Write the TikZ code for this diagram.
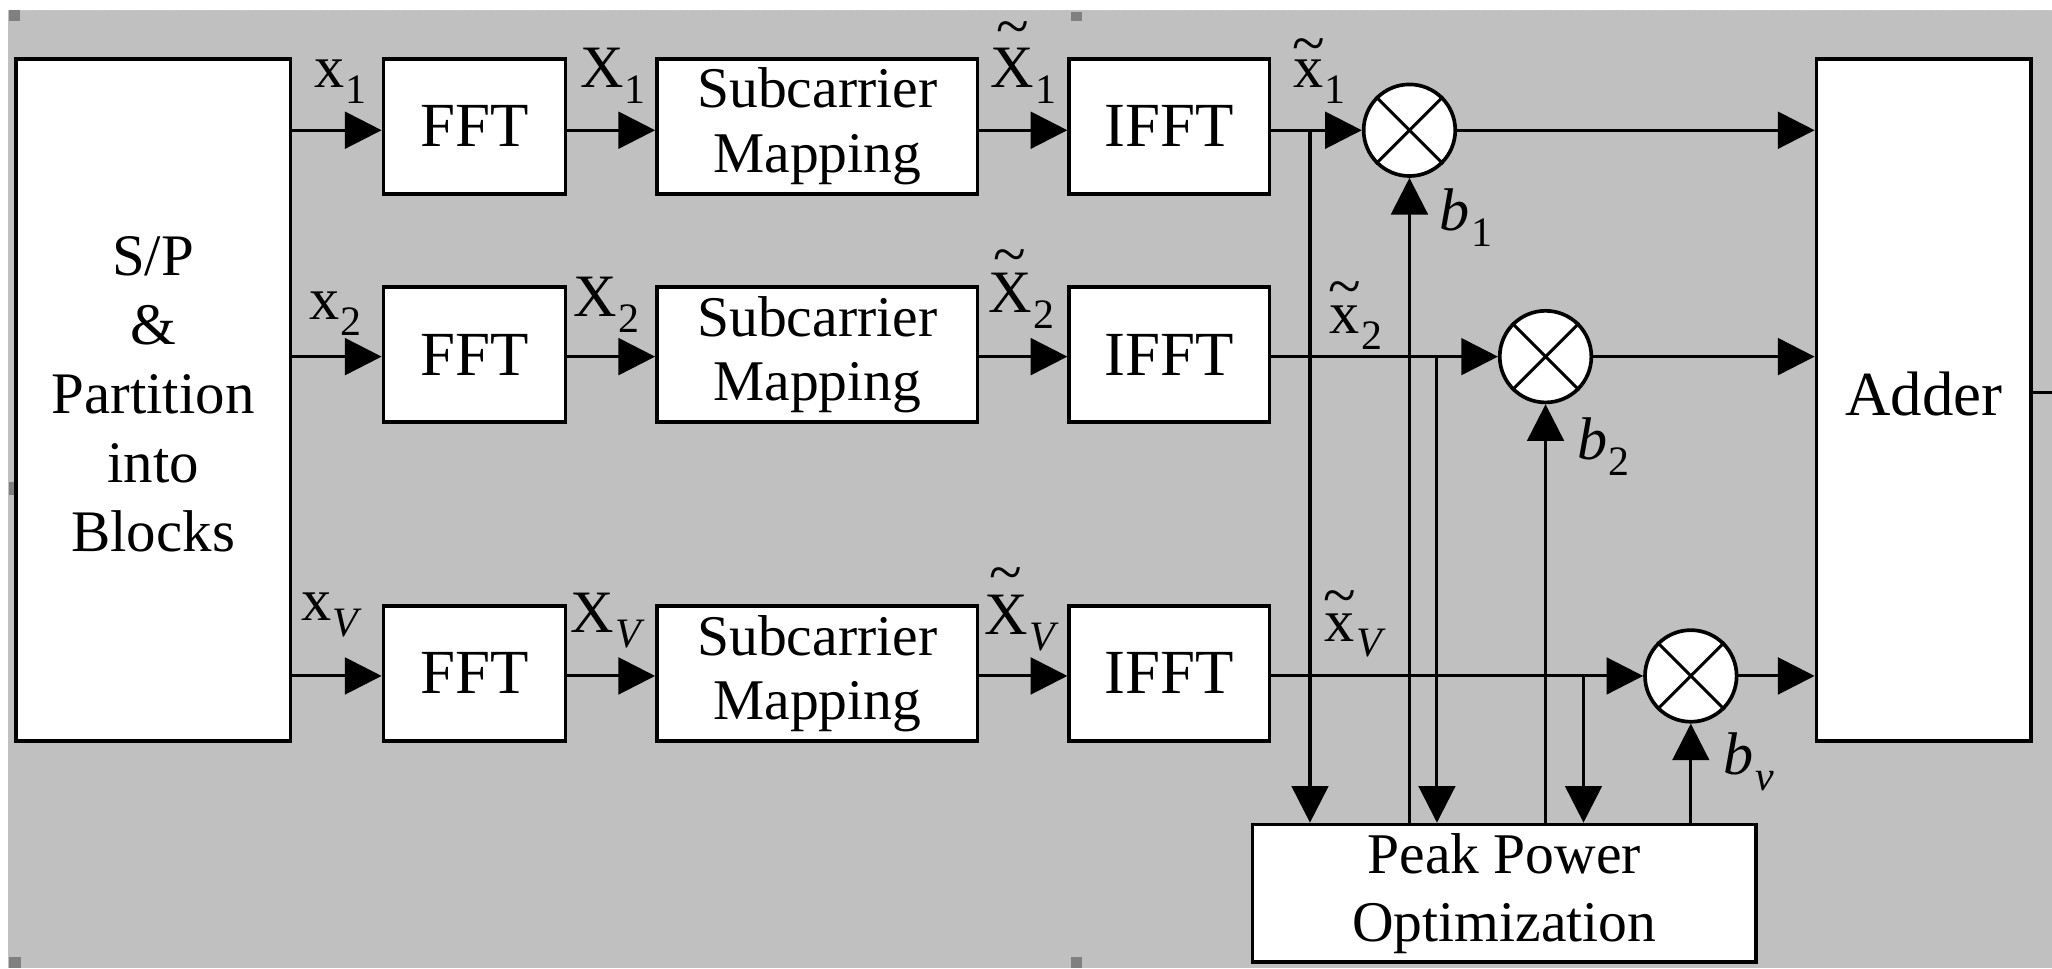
\documentclass[tikz,border=0pt]{standalone}
\usepackage{fontspec}
\setmainfont{Liberation Serif}
\usetikzlibrary{arrows.meta}
\definecolor{canvasgray}{HTML}{C0C0C0}
\definecolor{handlegray}{HTML}{808080}
% symbol with a lowered subscript
\newcommand\sublab[2]{#1\kern1pt\raisebox{-12pt}{\fontsize{32}{32}\selectfont #2}}
% tilde floating above a letter, raised by #1
\newcommand\tildeon[2]{\leavevmode\setbox0\hbox{#2}\rlap{\hbox to\wd0{\hss\raisebox{#1}{\textasciitilde}\hss}}\box0}

\begin{document}
\begin{tikzpicture}[x=1pt,y=-1pt,
  blk/.style={draw, fill=white, line width=2.8pt, inner sep=0pt, align=center,
              font=\fontsize{48}{52}\selectfont},
  mapbox/.style={blk, minimum width=245pt, font=\fontsize{44}{49}\selectfont},
  mix/.style={circle, draw, fill=white, line width=2.8pt, minimum size=70pt, inner sep=0pt},
  wire/.style={line width=2.3pt},
  arr/.style={wire, -{Triangle[length=28pt,width=28pt]}},
  lab/.style={anchor=base west, inner sep=0pt, font=\fontsize{46}{46}\selectfont},
  handle/.style={fill=handlegray}]

\useasboundingbox (0,0) rectangle (1568,740);
% canvas
\fill[white] (0,0) rectangle (1568,740);
\fill[canvasgray] (6,8) rectangle (1568,740);
\draw[gray!45, dash pattern=on 3pt off 2pt, line width=1pt] (6,8) -- (1568,8);
\fill[handle] (7,8) rectangle (15,16);
\fill[handle] (818,9) rectangle (827,16);
\fill[handle] (7,368) rectangle (16,378);
\fill[handle] (7,731) rectangle (16,740);
\fill[handle] (818,731) rectangle (827,740);

% serial/parallel splitter and adder
\node[blk, minimum width=210pt, minimum height=521pt, text depth=9.5pt,
      font=\fontsize{45}{52.75}\selectfont] (sp) at (117,305.5)
      {S/P\\\&\\Partition\\into\\Blocks};
\node[blk, minimum width=164pt, minimum height=521pt, text depth=9pt] (add) at (1470,305.5) {Adder};

% multipliers
\node[mix] (m1) at (1077,99.5) {};
\node[mix] (m2) at (1181,272.5) {};
\node[mix] (m3) at (1292,516.5) {};

% peak power optimizer
\node[blk, minimum width=385pt, minimum height=105pt, font=\fontsize{44}{52}\selectfont] (pk)
      at (1149.5,682.5) {Peak Power\\Optimization};

% branch points
\coordinate (j1) at (1001,99.5);
\coordinate (j2) at (1098,272.5);
\coordinate (j3) at (1210,516.5);
\coordinate (out) at (1580,300);

% processing chains
\foreach \r/\cy in {1/96.5, 2/271, 3/514.5} {
  \node[blk, minimum width=139pt, minimum height=103pt] (fft\r) at (362.5,\cy) {FFT};
  \node[mapbox, minimum height=103pt] (sm\r) at (624.5,\cy) {Subcarrier\\Mapping};
  \node[blk, minimum width=153pt, minimum height=103pt] (ifft\r) at (893.5,\cy) {IFFT};
  \draw[arr] (sp.east |- m\r) -- (fft\r.west |- m\r);
  \draw[arr] (fft\r.east |- m\r) -- (sm\r.west |- m\r);
  \draw[arr] (sm\r.east |- m\r) -- (ifft\r.west |- m\r);
  \draw[arr] (ifft\r.east |- m\r) -- (m\r.west);
  \draw[arr] (m\r.east) -- (add.west |- m\r);
  \draw[wire] (m\r.north east) -- (m\r.south west);
  \draw[wire] (m\r.north west) -- (m\r.south east);
  \draw[arr] (j\r) -- (j\r |- pk.north);
  \draw[arr] (m\r |- pk.north) -- (m\r.south);
}
\draw[wire] (add.east |- out) -- (out);

% signal labels
\node[lab] (lx1) at (240,67) {\sublab{x}{1}};
\node[lab] (lX1) at (443,67) {\sublab{X}{1}};
\node[lab] (lXt1) at (757,67) {\sublab{\tildeon{31.5pt}{X}}{1}};
\node[lab] (lxt1) at (988,67) {\sublab{\tildeon{18.6pt}{x}}{1}};
\node[lab] (lb1) at (1100,176) {\sublab{\textit{b}}{1}};

\node[lab] (lx2) at (236,244) {\sublab{x}{2}};
\node[lab] (lX2) at (438,242) {\sublab{X}{2}};
\node[lab] (lXt2) at (755,239) {\sublab{\tildeon{29.6pt}{X}}{2}};
\node[lab] (lxt2) at (1016,255) {\sublab{\tildeon{21pt}{x}}{2}};
\node[lab] (lb2) at (1205,351) {\sublab{\textit{b}}{2}};

\node[lab] (lxV) at (230,474) {\sublab{x}{\textit{V}}};
\node[lab] (lXV) at (436,483) {\sublab{X}{\textit{V}}};
\node[lab] (lXtV) at (752,485) {\sublab{\tildeon{32.5pt}{X}}{\textit{V}}};
\node[lab] (lxtV) at (1012,490) {\sublab{\tildeon{19.6pt}{x}}{\textit{V}}};
\node[lab] (lbv) at (1317,592) {\sublab{\textit{b}}{\textit{v}}};
\end{tikzpicture}
\end{document}
